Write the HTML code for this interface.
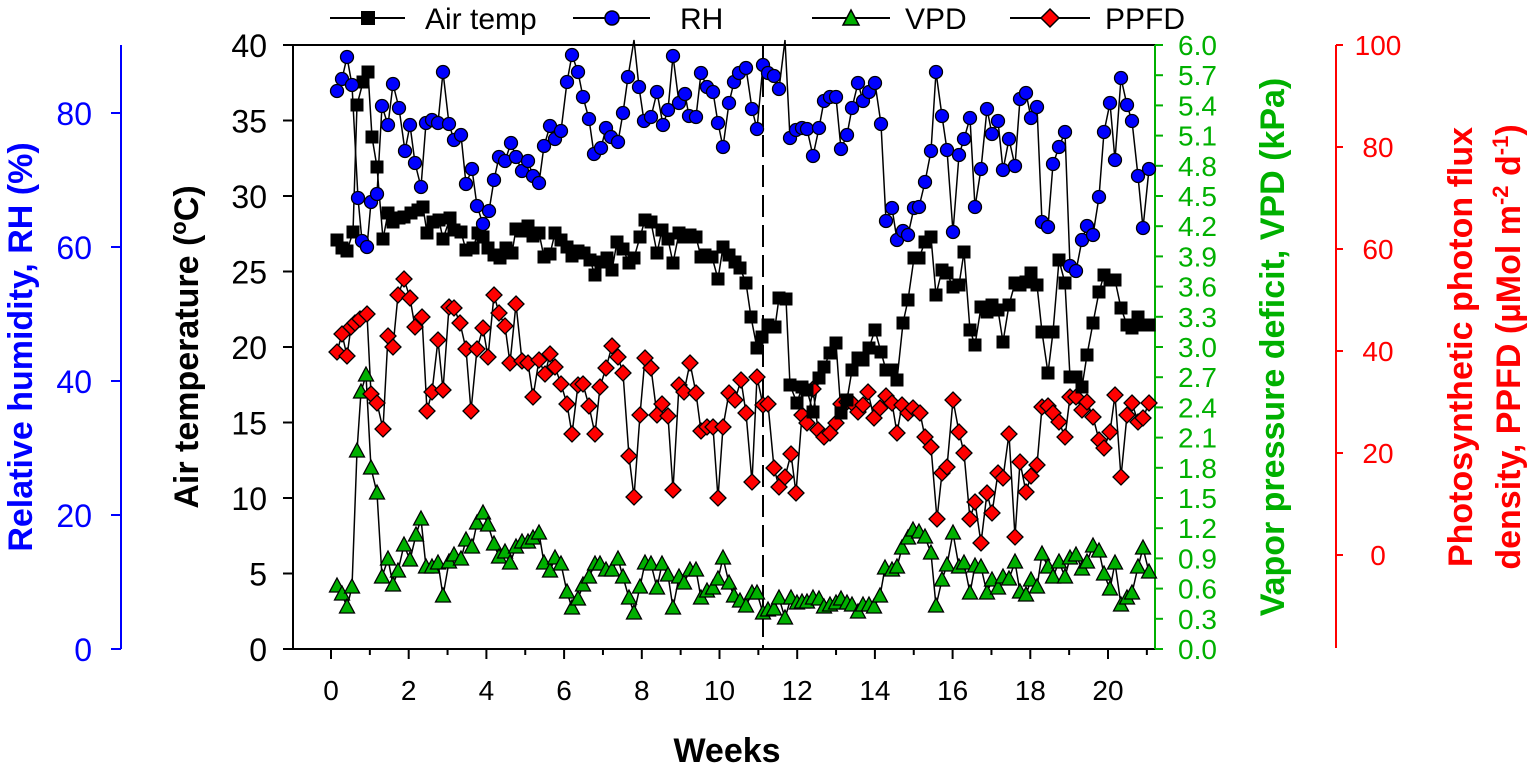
<!DOCTYPE html>
<html><head><meta charset="utf-8"><style>
html,body{margin:0;padding:0;background:#fff;}
svg{display:block;font-family:"Liberation Sans",Arial,sans-serif;}
</style></head><body>
<svg id="s" width="1535" height="776" viewBox="0 0 1535 776" xmlns="http://www.w3.org/2000/svg">
<g stroke="#0000ff" stroke-width="2">
<line x1="121" y1="45" x2="121" y2="649"/>
<line x1="111" y1="113" x2="121" y2="113"/><line x1="111" y1="247" x2="121" y2="247"/><line x1="111" y1="381" x2="121" y2="381"/><line x1="111" y1="515" x2="121" y2="515"/><line x1="111" y1="649" x2="121" y2="649"/>
</g>
<g fill="#0000ff" font-size="32" text-anchor="end">
<text x="92" y="125">80</text><text x="92" y="259">60</text><text x="92" y="393">40</text><text x="92" y="527">20</text><text x="92" y="661">0</text>
</g>
<text transform="translate(32,347) rotate(-90)" text-anchor="middle" fill="#0000ff" font-size="34" font-weight="bold">Relative humidity, RH (%)</text>
<g stroke="#000" stroke-width="2">
<line x1="293" y1="45" x2="293" y2="649"/>
<line x1="283" y1="45" x2="1155" y2="45"/>
<line x1="293" y1="649" x2="1155" y2="649"/>
</g>
<g stroke="#000" stroke-width="2" id="yt"></g>
<g font-size="32" text-anchor="end" id="yl"></g>
<text transform="translate(198,347) rotate(-90)" text-anchor="middle" font-size="34" font-weight="bold">Air temperature (<tspan font-size="22" dy="-12">o</tspan><tspan dy="12">C)</tspan></text>
<g stroke="#000" stroke-width="2" id="xt"></g>
<g font-size="28" text-anchor="middle" id="xl"></g>
<text x="727" y="762" text-anchor="middle" font-size="34" font-weight="bold">Weeks</text>
<g stroke="#00b000" stroke-width="2" id="gt"><line x1="1155" y1="45" x2="1155" y2="649"/></g>
<g fill="#00b000" font-size="28" id="gl"></g>
<text transform="translate(1284,347) rotate(-90)" text-anchor="middle" fill="#00b000" font-size="34" font-weight="bold">Vapor pressure deficit, VPD (kPa)</text>
<g stroke="#ff0000" stroke-width="2" id="rt"><line x1="1336" y1="45" x2="1336" y2="648"/></g>
<g fill="#ff0000" font-size="28" text-anchor="middle" id="rl"></g>
<text transform="translate(1472,347) rotate(-90)" text-anchor="middle" fill="#ff0000" font-size="34" font-weight="bold">Photosynthetic photon flux</text>
<text transform="translate(1520,347) rotate(-90)" text-anchor="middle" fill="#ff0000" font-size="34" font-weight="bold">density, PPFD (µMol m<tspan font-size="22" dy="-12">-2</tspan><tspan dy="12"> d</tspan><tspan font-size="22" dy="-12">-1</tspan><tspan dy="12">)</tspan></text>
<line x1="763" y1="45" x2="763" y2="649" stroke="#000" stroke-width="2" stroke-dasharray="22,8"/>
<g id="data"></g>
<g stroke="#000" stroke-width="2">
<line x1="330" y1="18" x2="405" y2="18"/><line x1="573" y1="18" x2="650" y2="18"/>
<line x1="812" y1="18" x2="890" y2="18"/><line x1="1010" y1="18" x2="1090" y2="18"/>
</g>
<rect x="361" y="11" width="14" height="14" fill="#000"/>
<circle cx="612" cy="18" r="7" fill="#0000ff" stroke="#000" stroke-width="1.5"/>
<polygon points="851,10 859,25 843,25" fill="#00b000" stroke="#000" stroke-width="1.5"/>
<polygon points="1050,9 1059,18 1050,27 1041,18" fill="#ff0000" stroke="#000" stroke-width="1.5"/>
<g font-size="30">
<text x="425" y="29">Air temp</text><text x="680" y="29">RH</text><text x="905" y="29">VPD</text><text x="1105" y="29">PPFD</text>
</g>
</svg>
<script>
var NS="http://www.w3.org/2000/svg";
function el(p,t,a,txt){var e=document.createElementNS(NS,t);for(var k in a)e.setAttribute(k,a[k]);if(txt!==undefined)e.textContent=txt;p.appendChild(e);return e;}
var yt=document.getElementById('yt'),yl=document.getElementById('yl');
for(var v=0;v<=40;v+=5){var y=649-v*15.1;el(yt,'line',{x1:283,y1:y,x2:293,y2:y});el(yl,'text',{x:267,y:y+12},String(v));}
var xt=document.getElementById('xt'),xl=document.getElementById('xl');
for(var w=0;w<=21;w++){var x=331+w*38.85;var l=w%2==0?10:6;el(xt,'line',{x1:x,y1:649,x2:x,y2:649+l});if(w%2==0)el(xl,'text',{x:x,y:700},String(w));}
var gt=document.getElementById('gt'),gl=document.getElementById('gl');
for(var i=0;i<=20;i++){var y=649-i*30.2;el(gt,'line',{x1:1155,y1:y,x2:1163,y2:y});el(gl,'text',{x:1178,y:y+10},(i*0.3).toFixed(1));}
var rt=document.getElementById('rt'),rl=document.getElementById('rl');
for(var i=0;i<=5;i++){var v=100-i*20;var y=45+i*102;el(rt,'line',{x1:1336,y1:y,x2:1343,y2:y});el(rl,'text',{x:1378,y:y+10},String(v));}
function P(s){var a=s.trim().split(/\s+/),r=[];for(var i=0;i<a.length;i++){var q=a[i].split(',');r.push([+q[0],+q[1]]);}return r;}
var rh=P("337,91 342,79 347,57 352,85 358,198 362,241 367,247 371,202 377,194 382,106 388,125 393,84 399,108 405,151 410,125 415,163 421,187 426,123 432,120 438,123 443,72 449,124 454,140 461,135 466,184 472,169 477,206 483,224 489,211 494,180 499,157 505,161 511,143 516,157 522,171 528,161 533,176 539,183 544,146 550,126 555,139 561,131 567,82 572,55 578,72 583,97 589,119 594,154 601,148 606,128 611,137 618,142 623,113 628,77 634,40 639,87 644,121 651,117 657,92 663,125 668,110 673,56 679,103 685,94 689,116 696,117 701,73 707,87 713,92 718,123 723,147 729,103 734,82 739,73 746,68 752,109 757,129 763,65 768,73 774,76 779,89 785,40 790,138 796,130 802,128 807,129 813,156 819,128 824,101 830,97 836,97 841,149 847,135 852,108 858,83 863,101 869,92 875,83 881,124 886,221 892,208 897,240 903,231 908,235 914,208 919,207 925,182 931,151 936,72 942,116 947,150 953,232 959,155 964,139 970,118 975,207 981,169 987,109 992,134 998,121 1003,170 1009,139 1015,166 1020,99 1026,93 1031,118 1037,107 1042,222 1048,227 1053,164 1059,147 1065,132 1070,266 1076,271 1082,240 1087,226 1093,235 1099,197 1104,132 1110,103 1115,160 1121,78 1127,105 1132,121 1138,176 1143,228 1149,169");
var at=P("337,240 342,248 347,251 353,232 357,105 363,82 368,72 372,137 377,167 383,239 388,213 393,222 399,218 404,217 411,213 418,210 423,207 427,233 433,222 439,220 443,239 450,218 454,230 461,232 466,250 473,248 478,233 483,237 488,248 494,255 500,258 506,248 512,253 516,229 522,231 528,226 533,236 539,233 544,257 550,254 555,233 561,240 567,247 572,256 578,251 584,253 590,260 595,275 601,262 607,258 612,270 617,242 623,249 629,263 634,258 640,237 645,220 651,222 657,253 662,230 668,239 673,263 679,233 684,237 690,235 696,237 701,257 705,255 712,257 718,279 723,247 729,255 735,262 740,268 746,283 751,317 757,348 762,337 768,325 775,327 779,298 786,299 790,385 797,403 802,387 807,390 813,412 819,378 824,367 830,353 836,343 841,413 847,400 852,370 858,358 863,360 869,348 875,330 881,352 886,370 892,370 897,380 903,323 908,300 914,258 919,258 925,242 931,237 936,295 942,270 947,273 953,287 959,285 964,252 970,330 975,345 981,307 987,312 992,305 998,310 1003,342 1009,305 1015,283 1020,285 1026,282 1031,273 1037,285 1042,332 1048,373 1053,332 1059,260 1065,283 1070,377 1076,377 1082,387 1087,355 1093,323 1099,292 1104,275 1110,280 1115,280 1121,308 1127,325 1132,328 1138,317 1143,325 1149,325");
var pp=P("337,352 342,334 347,356 351,327 355,323 360,319 367,314 371,394 377,403 383,429 388,336 393,347 398,295 404,279 410,298 415,327 422,317 427,411 432,392 438,340 443,390 449,307 454,308 460,323 466,349 471,411 477,349 483,328 488,357 494,295 499,313 505,326 510,363 516,304 522,361 528,363 533,397 539,360 545,374 550,354 555,367 561,384 567,404 572,434 578,385 583,384 589,406 595,434 600,387 606,368 612,346 618,357 623,373 629,456 634,497 640,415 645,358 651,368 657,415 662,404 668,416 673,490 679,385 684,392 690,363 696,393 701,431 707,427 713,427 718,498 723,427 729,393 735,400 741,380 746,413 752,482 757,377 763,405 768,404 774,468 779,487 785,477 791,454 796,493 802,415 807,423 813,389 818,430 824,437 830,433 836,423 841,404 847,402 852,403 858,412 863,405 868,392 874,418 880,408 886,396 892,403 897,433 902,405 908,413 913,408 920,413 925,437 931,447 937,519 942,473 947,467 953,400 959,432 964,453 970,519 975,502 981,543 987,493 992,513 998,473 1003,478 1009,434 1015,537 1020,462 1026,492 1031,476 1037,465 1042,407 1048,406 1053,413 1059,422 1065,437 1070,397 1076,397 1082,410 1087,402 1093,417 1099,440 1104,448 1110,432 1115,395 1121,477 1127,415 1132,403 1138,422 1143,418 1149,403");
var vp=P("337,586 342,594 347,607 352,587 357,451 361,392 366,375 371,468 377,493 382,577 388,559 393,585 398,571 404,545 410,560 416,535 421,519 426,567 432,567 438,563 443,596 449,562 454,555 461,559 466,540 472,547 477,523 483,513 488,525 494,544 499,557 505,552 510,563 516,547 522,542 528,542 533,538 539,533 544,563 550,571 555,558 561,564 567,592 572,608 578,599 583,585 589,577 595,564 600,564 606,570 612,570 618,559 623,577 629,598 634,613 640,587 645,563 651,564 657,588 662,564 668,575 673,608 679,577 684,583 690,570 696,570 701,598 707,591 713,588 718,579 723,558 729,583 734,596 740,601 746,606 752,593 757,593 763,613 768,610 774,609 779,598 785,618 791,598 797,603 802,602 807,602 813,598 819,599 824,607 830,605 836,603 841,599 847,603 852,605 858,612 863,605 869,605 874,607 880,596 885,568 892,570 897,567 902,548 908,538 913,530 919,532 925,537 931,553 936,606 942,580 947,565 953,533 959,567 964,563 970,593 975,566 981,567 987,593 992,580 998,588 1003,577 1009,579 1015,562 1020,592 1026,595 1031,580 1037,587 1042,554 1048,567 1053,577 1059,562 1065,577 1070,558 1076,555 1082,569 1087,562 1093,546 1099,551 1104,574 1110,589 1115,563 1121,605 1127,598 1132,593 1138,567 1143,548 1149,572");
var d=document.getElementById('data');
function line(pts){el(d,'polyline',{points:pts.map(function(p){return p.join(',')}).join(' '),fill:'none',stroke:'#000','stroke-width':1.5});}
line(vp);line(pp);line(at);line(rh);
vp.forEach(function(p){el(d,'polygon',{points:p[0]+','+(p[1]-8)+' '+(p[0]+7.5)+','+(p[1]+6)+' '+(p[0]-7.5)+','+(p[1]+6),fill:'#00b000',stroke:'#000','stroke-width':1.3});});
pp.forEach(function(p){el(d,'polygon',{points:p[0]+','+(p[1]-8)+' '+(p[0]+8)+','+p[1]+' '+p[0]+','+(p[1]+8)+' '+(p[0]-8)+','+p[1],fill:'#ff0000',stroke:'#000','stroke-width':1.3});});
at.forEach(function(p){el(d,'rect',{x:p[0]-6.5,y:p[1]-6.5,width:13,height:13,fill:'#000'});});
rh.forEach(function(p){if(p[1]<45)return;el(d,'circle',{cx:p[0],cy:p[1],r:6.5,fill:'#0000ff',stroke:'#000','stroke-width':1.3});});
</script>
</body></html>
